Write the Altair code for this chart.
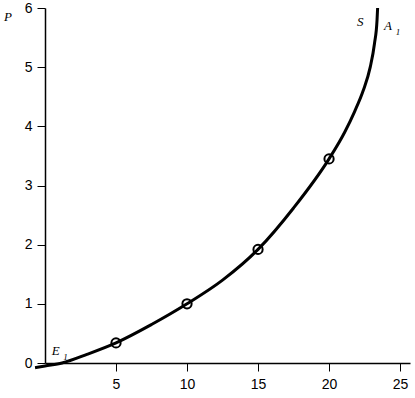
import altair as alt
import pandas as pd

# curve
curve_x = [-0.7, 0.0, 1.2, 3.0, 5.0, 7.5, 10.0, 12.5, 15.0, 17.5, 20.0, 21.1, 21.8, 22.4, 22.9, 23.2, 23.38, 23.42]
curve_y = [-0.08, -0.05, 0.0, 0.15, 0.34, 0.65, 1.0, 1.4, 1.92, 2.62, 3.45, 3.9, 4.25, 4.6, 5.0, 5.4, 5.8, 6.0]

# measured points (circles)
pts_x = [5, 10, 15, 20]
pts_y = [0.34, 1.0, 1.92, 3.45]

# labels
lab_text = ["P", "S", "A", "E"]
lab_x = [-2.6, 22.2, 24.15, 0.75]
lab_y = [5.85, 5.76, 5.7, 0.2]
sub_text = ["1", "1"]
sub_x = [24.85, 1.45]
sub_y = [5.6, 0.1]

x_ticks = [5, 10, 15, 20, 25]
y_ticks = [0, 1, 2, 3, 4, 5, 6]

curve = pd.DataFrame({"x": curve_x, "y": curve_y})
pts = pd.DataFrame({"x": pts_x, "y": pts_y})
labs = pd.DataFrame({"t": lab_text, "x": lab_x, "y": lab_y})
subs = pd.DataFrame({"t": sub_text, "x": sub_x, "y": sub_y})

xs = alt.Scale(domain=[0, 25.7], nice=False, zero=False)
ys = alt.Scale(domain=[0, 6], nice=False, zero=False)

xax = alt.Axis(values=x_ticks, format="d", title=None, grid=False, domainColor="black", domainWidth=1.5,
               tickColor="black", tickSize=8, labelFontSize=14, labelFont="Liberation Sans",
               labelColor="black", labelPadding=6, labelFlush=False)
yax = alt.Axis(values=y_ticks, format="d", title=None, grid=False, domainColor="black", domainWidth=1.5,
               tickColor="black", tickSize=8, labelFontSize=14, labelFont="Liberation Sans",
               labelColor="black", labelPadding=5, labelFlush=False)

line = alt.Chart(curve).mark_line(color="black", strokeWidth=3, interpolate="monotone").encode(
    x=alt.X("x:Q", scale=xs, axis=xax),
    y=alt.Y("y:Q", scale=ys, axis=yax),
)
circ = alt.Chart(pts).mark_point(shape="circle", filled=False, color="black", size=85, strokeWidth=2, opacity=1).encode(
    x=alt.X("x:Q", scale=xs),
    y=alt.Y("y:Q", scale=ys),
)
texts = alt.Chart(labs).mark_text(font="Liberation Serif", fontStyle="italic", fontSize=13, color="black").encode(
    x=alt.X("x:Q", scale=xs),
    y=alt.Y("y:Q", scale=ys),
    text="t:N",
)
subtexts = alt.Chart(subs).mark_text(font="Liberation Serif", fontStyle="italic", fontSize=9, color="black").encode(
    x=alt.X("x:Q", scale=xs),
    y=alt.Y("y:Q", scale=ys),
    text="t:N",
)

chart = alt.layer(line, circ, texts, subtexts).properties(
    width=365, height=355,
    autosize=alt.AutoSizeParams(type="none"),
    padding={"left": 45, "top": 8, "right": 5, "bottom": 35},
    background="white",
).configure_view(stroke=None)

chart.save("out.html", embed_options={"renderer": "svg", "actions": False})
